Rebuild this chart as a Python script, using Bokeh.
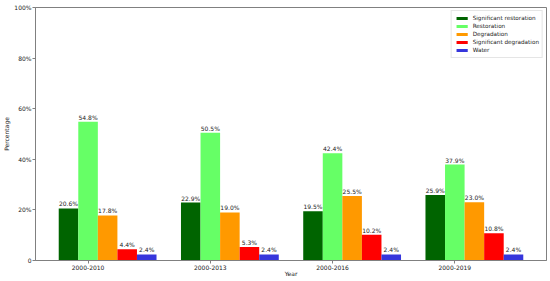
import numpy as np
from bokeh.plotting import figure
from bokeh.models import ColumnDataSource, FixedTicker, Range1d
from bokeh.core.properties import value
from bokeh.embed import file_html
from bokeh.resources import INLINE

years = ["2000-2010", "2000-2013", "2000-2016", "2000-2019"]
series_names = ["Significant restoration", "Restoration", "Degradation",
                "Significant degradation", "Water"]
sig_restoration = [20.6, 22.9, 19.5, 25.9]
restoration = [54.8, 50.5, 42.4, 37.9]
degradation = [17.8, 19.0, 25.5, 23.0]
sig_degradation = [4.4, 5.3, 10.2, 10.8]
water = [2.4, 2.4, 2.4, 2.4]
y_ticks = [0, 20, 40, 60, 80, 100]
y_tick_labels = ["0", "20%", "40%", "60%", "80%", "100%"]

series = [sig_restoration, restoration, degradation, sig_degradation, water]
colors = ["#006400", "#66ff66", "#ff9900", "#ff0000", "#3636dc"]

FONT = "DejaVu Sans"
FS = "6px"
w = 0.16

p = figure(width=550, height=281, output_backend="svg", toolbar_location=None,
           x_range=Range1d(-0.43, 3.75), y_range=Range1d(0, 100),
           min_border_left=35, min_border_right=4, min_border_top=7,
           min_border_bottom=21)
p.background_fill_color = "white"
p.border_fill_color = "white"
p.outline_line_color = "#808080"
p.outline_line_width = 1
p.xgrid.visible = False
p.ygrid.visible = False

base = np.arange(len(years))
for i, (name, vals, col) in enumerate(zip(series_names, series, colors)):
    xs = base + (i - 1) * w
    src = ColumnDataSource(dict(x=xs, top=vals,
                                lab=["%.1f%%" % v for v in vals]))
    p.vbar(x="x", top="top", width=w, source=src, fill_color=col,
           line_color=None, legend_label=name)
    p.text(x="x", y="top", text="lab", source=src, text_align="center",
           text_baseline="bottom", y_offset=-1, text_font=value(FONT),
           text_font_size=FS, text_color="#222222")

p.xaxis.ticker = FixedTicker(ticks=list(base))
p.xaxis.major_label_overrides = {int(b): y for b, y in zip(base, years)}
p.yaxis.ticker = FixedTicker(ticks=y_ticks)
p.yaxis.major_label_overrides = {t: l for t, l in zip(y_ticks, y_tick_labels)}
for ax in (p.xaxis[0], p.yaxis[0]):
    ax.axis_line_color = "#808080"
    ax.major_tick_line_color = "#808080"
    ax.major_tick_out = 3
    ax.major_tick_in = 0
    ax.minor_tick_line_color = None
    ax.major_label_text_font = FONT
    ax.major_label_text_font_size = FS
    ax.major_label_text_color = "#222222"
    ax.major_label_standoff = 1
    ax.axis_label_text_font = FONT
    ax.axis_label_text_font_size = FS
    ax.axis_label_text_font_style = "normal"
    ax.axis_label_text_color = "#222222"
p.xaxis.axis_label = "Year"
p.yaxis.axis_label = "Percentage"
p.xaxis[0].axis_label_standoff = -3
p.yaxis[0].axis_label_standoff = 1

lg = p.legend[0]
lg.location = "top_right"
lg.margin = 3
lg.padding = 3
lg.spacing = 0
lg.label_height = 8
lg.glyph_height = 4
lg.glyph_width = 14
lg.label_standoff = 4
lg.label_text_font = FONT
lg.label_text_font_size = "5.7px"
lg.label_text_color = "#222222"
lg.border_line_color = "#cccccc"
lg.background_fill_alpha = 0.9

open("out.html", "w").write(file_html(p, INLINE))
